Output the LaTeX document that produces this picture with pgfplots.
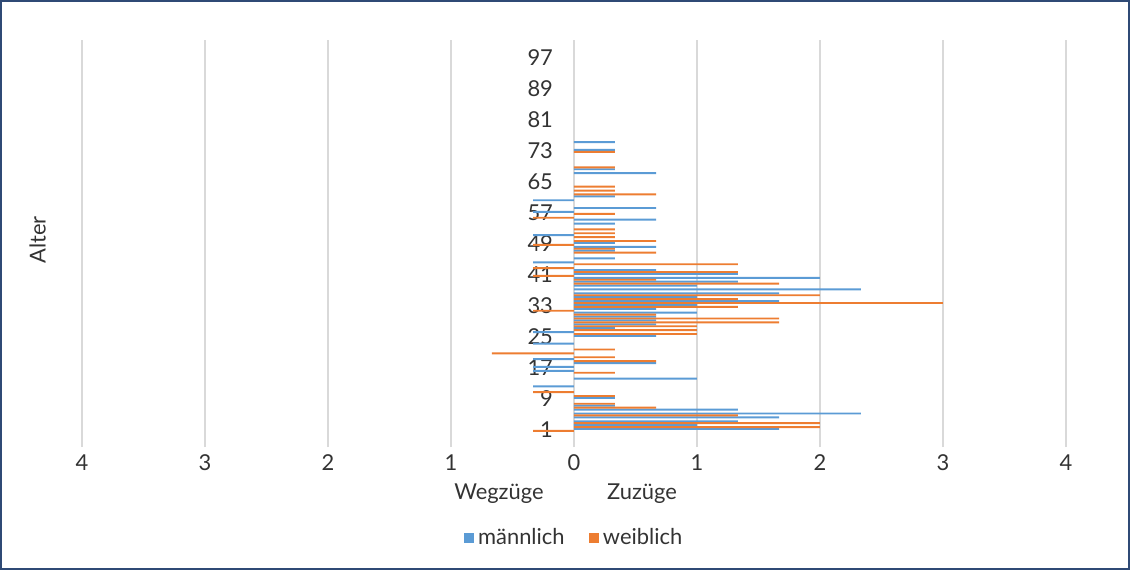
\documentclass[border=0pt]{standalone}
\usepackage{fontspec}
\setmainfont{Lato}
\usepackage{pgfplots}
\usepackage{pgfplotstable}
\pgfplotsset{compat=1.18}

\definecolor{mblue}{HTML}{5B9BD5}
\definecolor{worange}{HTML}{ED7D31}
\definecolor{gridgray}{HTML}{D9D9D9}
\definecolor{txt}{HTML}{333333}
\definecolor{frame}{HTML}{2F4A75}

% Zuzuege maennlich (age, value)
\pgfplotstableread{
a v
1 1.667
2 1.0
3 1.333
4 1.667
5 2.333
6 1.333
7 0.333
9 0.333
14 1.0
18 0.667
25 0.667
27 0.333
28 0.667
29 0.667
30 0.667
31 1.0
32 0.667
33 1.0
34 1.667
35 1.0
36 1.667
37 2.333
38 1.0
39 1.333
40 2.0
41 1.333
42 0.667
45 0.333
47 0.333
48 0.667
49 0.333
54 0.333
55 0.667
58 0.667
61 0.333
67 0.667
68 0.333
73 0.333
75 0.333
}\zm

% Zuzuege weiblich
\pgfplotstableread{
a v
2 2.0
3 2.0
5 1.333
7 0.667
8 0.333
10 0.333
16 0.333
19 0.667
20 0.333
22 0.333
26 1.0
27 1.0
28 1.0
29 1.667
30 1.667
31 0.667
33 1.333
34 3.0
35 1.333
36 2.0
39 1.667
40 0.667
42 1.333
44 1.333
47 0.667
48 0.333
50 0.667
51 0.333
52 0.333
53 0.333
57 0.333
62 0.667
63 0.333
64 0.333
69 0.333
73 0.333
}\zw

% Wegzuege maennlich
\pgfplotstableread{
a v
12 -0.333
16 -0.333
17 -0.333
19 -0.333
23 -0.333
26 -0.333
44 -0.333
51 -0.333
57 -0.333
60 -0.333
}\wm

% Wegzuege weiblich
\pgfplotstableread{
a v
1 -0.333
11 -0.333
21 -0.667
32 -0.333
41 -0.333
43 -0.333
49 -0.333
56 -0.333
}\ww

\pgfplotsset{
  sq legend/.style={legend image code/.code={\fill[##1] (0bp,-2.6bp) rectangle (5.2bp,2.6bp);}},
}

\begin{document}
\begin{tikzpicture}[font=\fontsize{11}{13}\selectfont]
\useasboundingbox (0,0) rectangle (565bp,285bp);
\draw[frame, line width=0.8bp] (0.4bp,0.4bp) rectangle (564.6bp,284.6bp);
\begin{axis}[
  at={(41bp,61.5bp)}, anchor=south west,
  scale only axis, width=492bp, height=203.5bp,
  xmin=-4, xmax=4, ymin=-3.4, ymax=101.6,
  axis x line=bottom, axis y line=middle,
  axis line style={draw=none},
  hide obscured x ticks=false, hide obscured y ticks=false,
  xtick={-4,-3,-2,-1,0,1,2,3,4},
  xticklabels={4,3,2,1,0,1,2,3,4},
  ytick={1,9,...,97},
  major tick length=0pt,
  xmajorgrids, grid style={gridgray, line width=0.75bp},
  clip=false,
  ticklabel style={txt, font=\fontsize{11}{13}\selectfont},
  yticklabel style={anchor=east, xshift=-7bp},
  xticklabel style={yshift=-0.5bp},
  /pgf/number format/assume math mode=true,
  legend style={at={(0.501,-0.2236)}, anchor=center, draw=none, fill=none,
    legend columns=2, font=\fontsize{11}{13}\selectfont, text=txt,
    /tikz/every even column/.append style={column sep=10bp}},
]
\addplot[xbar, bar width=0.5, bar shift=0.25, fill=mblue, draw=none, sq legend]
  table[x=v, y=a] {\zm};
\addlegendentry{männlich}
\addplot[xbar, bar width=0.5, bar shift=-0.25, fill=worange, draw=none, sq legend]
  table[x=v, y=a] {\zw};
\addlegendentry{weiblich}
\addplot[xbar, bar width=0.5, bar shift=0.25, fill=mblue, draw=none, forget plot]
  table[x=v, y=a] {\wm};
\addplot[xbar, bar width=0.5, bar shift=-0.25, fill=worange, draw=none, forget plot]
  table[x=v, y=a] {\ww};

\node[txt] at (axis cs:-0.61,-15.5) {Wegzüge};
\node[txt] at (axis cs:0.553,-15.5) {Zuzüge};
\node[txt, rotate=90] at (axis cs:-4.36,50) {Alter};
\end{axis}
\end{tikzpicture}
\end{document}
